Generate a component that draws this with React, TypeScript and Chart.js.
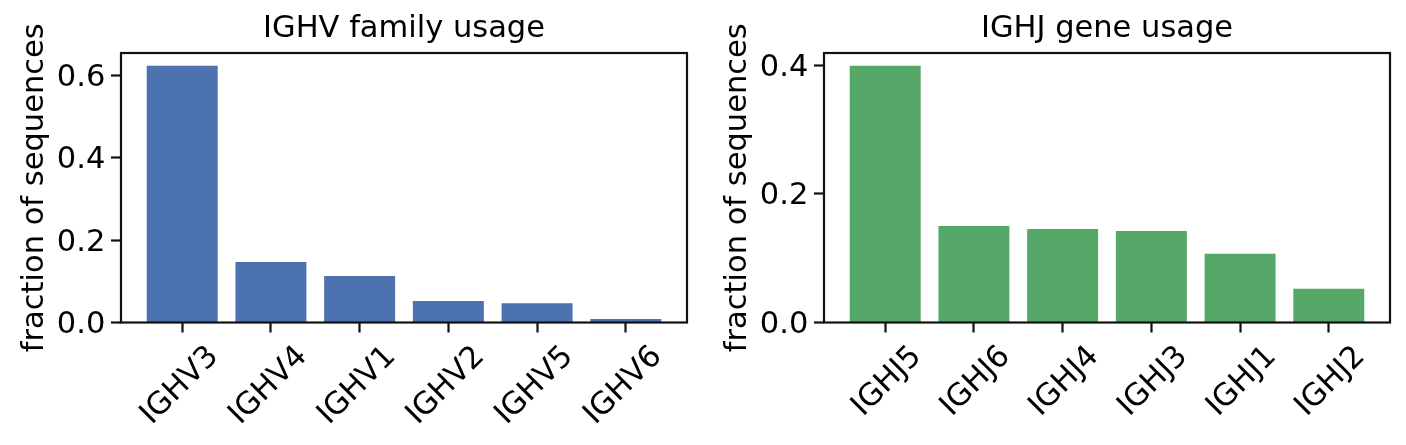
import React, { useEffect, useRef } from "react";
import { Chart, registerables } from "chart.js";

Chart.register(...registerables);

// ---- data ----
const vCategories = ["IGHV3", "IGHV4", "IGHV1", "IGHV2", "IGHV5", "IGHV6"];
const vValues = [0.624, 0.147, 0.113, 0.052, 0.047, 0.0085];
const vTicks = [0, 0.2, 0.4, 0.6];

const jCategories = ["IGHJ5", "IGHJ6", "IGHJ4", "IGHJ3", "IGHJ1", "IGHJ2"];
const jValues = [0.399, 0.15, 0.1455, 0.1424, 0.1067, 0.0523];
const jTicks = [0, 0.2, 0.4];

const vTitle = "IGHV family usage";
const jTitle = "IGHJ gene usage";
const yLabel = "fraction of sequences";

// ---- styling ----
const FONT = "DejaVu Sans";
const FS = 30.5;
const INK = "#111111";
const W = 703;
const H = 445;

const framePlugin = {
  id: "frame",
  afterDatasetsDraw(chart: any) {
    const { ctx, chartArea } = chart;
    const { left, top, right, bottom } = chartArea;
    ctx.save();
    ctx.strokeStyle = INK;
    ctx.lineWidth = 2.2;
    ctx.strokeRect(left, top, right - left, bottom - top);
    ctx.restore();
  },
};

function BarPanel(props: {
  categories: string[];
  values: number[];
  ticks: number[];
  title: string;
  color: string;
  left: number;
}) {
  const ref = useRef<HTMLCanvasElement | null>(null);
  useEffect(() => {
    if (!ref.current) return;
    const { categories, values, ticks, title, color } = props;
    const n = categories.length;
    const span = n - 1 + 0.8;
    const xMin = -0.4 - span * 0.05;
    const xMax = n - 1 + 0.4 + span * 0.05;
    const yMax = Math.max(...values) * 1.05;
    const chart = new Chart(ref.current, {
      type: "bar",
      data: {
        datasets: [
          {
            data: values.map((v, i) => ({ x: i, y: v })),
            backgroundColor: color,
            borderWidth: 0,
            barPercentage: 0.8,
            categoryPercentage: 1.0,
          },
        ],
      },
      options: {
        responsive: false,
        animation: false,
        devicePixelRatio: 1,
        layout: { padding: { left: 0, right: 16, top: 0, bottom: 0 } },
        plugins: {
          legend: { display: false },
          tooltip: { enabled: false },
          title: {
            display: true,
            text: title,
            fullSize: false,
            color: "#000",
            font: { family: FONT, size: FS, weight: "normal" as any },
            padding: { top: 10.45, bottom: 5.95 },
          },
        },
        scales: {
          x: {
            type: "linear",
            min: xMin,
            max: xMax,
            offset: false,
            afterBuildTicks: (s: any) => {
              s.ticks = categories.map((_, i) => ({ value: i }));
            },
            afterFit: (s: any) => {
              s.height = H - 322.5;
            },
            grid: {
              display: true,
              drawOnChartArea: false,
              drawTicks: true,
              tickLength: 10,
              tickWidth: 2.2,
              tickColor: INK,
              offset: false,
            },
            border: { display: false },
            ticks: {
              autoSkip: false,
              minRotation: 45,
              maxRotation: 45,
              padding: 6.5,
              labelOffset: 31.6,
              color: "#000",
              font: { family: FONT, size: FS },
              callback: (_v: any, i: number) => categories[i],
            },
          },
          y: {
            type: "linear",
            min: 0,
            max: yMax,
            afterBuildTicks: (s: any) => {
              s.ticks = ticks.map((v) => ({ value: v }));
            },
            afterFit: (s: any) => {
              s.width = 121;
            },
            grid: {
              display: true,
              drawOnChartArea: false,
              drawTicks: true,
              tickLength: 10,
              tickWidth: 2.2,
              tickColor: INK,
            },
            border: { display: false },
            ticks: {
              padding: 5.7,
              labelOffset: 2.5,
              color: "#000",
              font: { family: FONT, size: FS },
              callback: (v: any) => Number(v).toFixed(1),
            },
            title: {
              display: true,
              text: yLabel,
              color: "#000",
              font: { family: FONT, size: FS },
              padding: { top: 16.8, bottom: 0 },
            },
          },
        },
      },
      plugins: [framePlugin],
    } as any);
    return () => chart.destroy();
  }, []);
  return (
    <canvas
      ref={ref}
      width={W}
      height={H}
      style={{ position: "absolute", left: props.left, top: 0, width: W, height: H, display: "block" }}
    />
  );
}

export default function App() {
  return (
    <div style={{ position: "absolute", left: 0, top: 0, width: 1406, height: 445, background: "#fff", overflow: "hidden" }}>
      <BarPanel categories={vCategories} values={vValues} ticks={vTicks} title={vTitle} color="#4C72B0" left={0} />
      <BarPanel categories={jCategories} values={jValues} ticks={jTicks} title={jTitle} color="#55A868" left={703} />
    </div>
  );
}
